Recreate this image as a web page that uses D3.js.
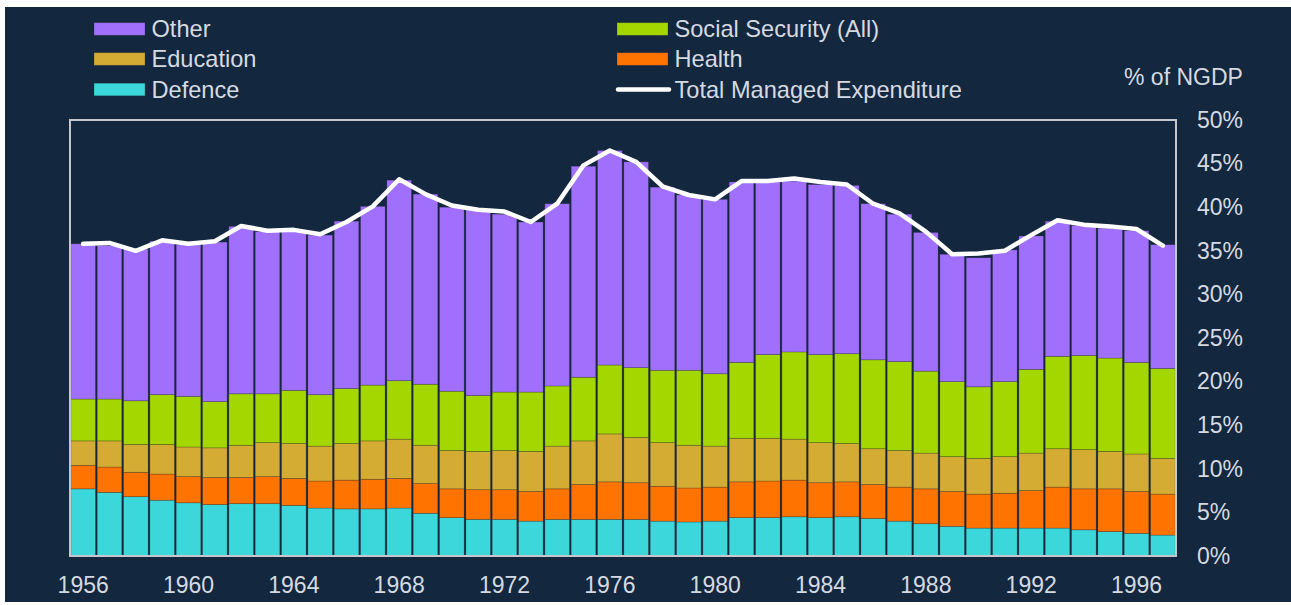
<!DOCTYPE html>
<html>
<head>
<meta charset="utf-8">
<script src="https://cdn.jsdelivr.net/npm/d3@7"></script>
<style>
  html, body { margin: 0; padding: 0; background: #ffffff; }
  svg { display: block; }
  text { font-family: "Liberation Sans", Arial, sans-serif; fill: #d6dae0; }
</style>
</head>
<body>
<svg id="chart" width="1291" height="605"></svg>
<script>
// Public spending by function, % of nominal GDP, 1956-1997
const years = d3.range(1956, 1998);
const defence = [7.7, 7.3, 6.8, 6.4, 6.1, 5.9, 6.0, 6.0, 5.8, 5.5, 5.4, 5.4, 5.5, 4.9, 4.4, 4.2, 4.2, 4.0, 4.2, 4.2,
  4.2, 4.2, 4.0, 3.9, 4.0, 4.4, 4.4, 4.5, 4.4, 4.5, 4.3, 4.0, 3.7, 3.4, 3.2, 3.2, 3.2, 3.2, 3.0, 2.8, 2.6, 2.4];
const health = [2.7, 2.9, 2.8, 3.0, 3.0, 3.1, 3.0, 3.1, 3.1, 3.1, 3.3, 3.4, 3.4, 3.4, 3.3, 3.4, 3.4, 3.4, 3.5, 4.0,
  4.3, 4.2, 4.0, 3.9, 3.9, 4.1, 4.2, 4.2, 4.0, 4.0, 3.9, 3.9, 4.0, 4.0, 3.9, 4.0, 4.3, 4.7, 4.7, 4.9, 4.8, 4.7];
const education = [2.8, 3.0, 3.2, 3.4, 3.4, 3.4, 3.7, 3.9, 4.0, 4.0, 4.2, 4.4, 4.5, 4.4, 4.4, 4.4, 4.5, 4.6, 4.9, 5.0,
  5.5, 5.2, 5.0, 4.9, 4.7, 5.0, 4.9, 4.7, 4.6, 4.4, 4.1, 4.2, 4.1, 4.0, 4.1, 4.2, 4.3, 4.4, 4.5, 4.3, 4.3, 4.1];
const socialSecurity = [4.8, 4.8, 5.0, 5.7, 5.8, 5.3, 5.9, 5.6, 6.1, 5.9, 6.3, 6.4, 6.7, 7.0, 6.8, 6.4, 6.7, 6.8, 6.9, 7.3,
  7.9, 8.0, 8.3, 8.6, 8.3, 8.7, 9.6, 10.0, 10.1, 10.3, 10.2, 10.2, 9.4, 8.6, 8.2, 8.6, 9.6, 10.6, 10.8, 10.7, 10.5, 10.3];
const other = [17.8, 17.6, 17.4, 17.6, 17.4, 18.3, 19.2, 18.6, 18.2, 18.3, 19.2, 20.5, 23.0, 21.8, 21.1, 21.4, 20.4, 19.5, 20.9, 24.2,
  24.6, 23.6, 21.0, 20.1, 20.0, 20.7, 19.8, 19.6, 19.5, 19.3, 17.9, 16.9, 15.9, 14.6, 14.8, 15.1, 15.3, 15.5, 14.9, 14.9, 15.1, 14.2];
const totalManaged = [35.8, 35.9, 35.0, 36.2, 35.8, 36.1, 37.85, 37.3, 37.4, 36.9, 38.3, 40.1, 43.2, 41.5, 40.2, 39.7, 39.5, 38.3, 40.4, 44.8,
  46.5, 45.2, 42.4, 41.4, 40.9, 43.0, 43.0, 43.3, 42.9, 42.6, 40.4, 39.3, 37.2, 34.6, 34.7, 35.0, 36.8, 38.5, 38.0, 37.8, 37.5, 35.6];
const yTicks = [0, 5, 10, 15, 20, 25, 30, 35, 40, 45, 50];
const xTickYears = d3.range(1956, 1998, 4);

const seriesKeys = ["defence", "health", "education", "socialSecurity", "other"];
const seriesNames = {
  other: "Other", socialSecurity: "Social Security (All)", education: "Education",
  health: "Health", defence: "Defence"
};
const colors = {
  other: "#a070fd", socialSecurity: "#a4d600", education: "#d4ac34",
  health: "#ff7300", defence: "#3bd7db"
};

const rows = years.map((yr, i) => ({
  year: yr,
  defence: defence[i], health: health[i], education: education[i],
  socialSecurity: socialSecurity[i], other: other[i]
}));

const svg = d3.select("#chart");
const plot = { left: 70, right: 1176, top: 120, bottom: 556 };

// dark panel
svg.append("rect").attr("x", 5).attr("y", 7).attr("width", 1286).attr("height", 595).attr("fill", "#13273f");

const x = d3.scaleBand().domain(years).range([plot.left, plot.right]).paddingInner(0.066).paddingOuter(0.033);
const y = d3.scaleLinear().domain([0, 50]).range([plot.bottom, plot.top]);

const stacked = d3.stack().keys(seriesKeys)(rows);

svg.append("g").selectAll("g")
  .data(stacked)
  .join("g")
  .attr("fill", d => colors[d.key])
  .selectAll("rect")
  .data(d => d)
  .join("rect")
  .attr("x", d => x(d.data.year))
  .attr("width", x.bandwidth())
  .attr("y", d => y(d[1]))
  .attr("height", d => y(d[0]) - y(d[1]))
  .attr("stroke", "rgba(40,40,40,0.35)")
  .attr("stroke-width", 0.7);

// total managed expenditure line
const line = d3.line()
  .x((d, i) => x(years[i]) + x.bandwidth() / 2)
  .y(d => y(d));
svg.append("path")
  .datum(totalManaged)
  .attr("d", line)
  .attr("fill", "none")
  .attr("stroke", "#ffffff")
  .attr("stroke-width", 4.5)
  .attr("stroke-linejoin", "round")
  .attr("stroke-linecap", "round");

// plot frame
svg.append("rect")
  .attr("x", plot.left).attr("y", plot.top)
  .attr("width", plot.right - plot.left).attr("height", plot.bottom - plot.top)
  .attr("fill", "none").attr("stroke", "#c4c8cc").attr("stroke-width", 2);

// right axis
const yAxis = svg.append("g")
  .attr("transform", `translate(${plot.right},0)`)
  .call(d3.axisRight(y).tickValues(yTicks).tickFormat(d => d + "%").tickSize(0).tickPadding(21));
yAxis.select(".domain").remove();
yAxis.selectAll("text").attr("font-size", 23).attr("font-family", null).attr("fill", "#d6dae0");

// bottom axis
const xAxis = svg.append("g")
  .attr("transform", `translate(0,${plot.bottom})`)
  .call(d3.axisBottom(x).tickValues(xTickYears).tickSize(0).tickPadding(21));
xAxis.select(".domain").remove();
xAxis.selectAll("text").attr("font-size", 23).attr("font-family", null).attr("fill", "#d6dae0");

svg.append("text").attr("x", 1124).attr("y", 77).attr("dy", "0.35em")
  .attr("font-size", 23).text("% of NGDP");

// legend
const legendItems = [
  { key: "other", col: 0, row: 0 },
  { key: "education", col: 0, row: 1 },
  { key: "defence", col: 0, row: 2 },
  { key: "socialSecurity", col: 1, row: 0 },
  { key: "health", col: 1, row: 1 },
  { key: "total", col: 1, row: 2 }
];
const colX = [94, 617];
const rowY = [29, 59, 89.5];
const legend = svg.append("g");
legendItems.forEach(it => {
  const gx = colX[it.col], gy = rowY[it.row];
  if (it.key === "total") {
    legend.append("line").attr("x1", gx + 1).attr("x2", gx + 52).attr("y1", gy).attr("y2", gy)
      .attr("stroke", "#ffffff").attr("stroke-width", 4.5).attr("stroke-linecap", "round");
  } else {
    legend.append("rect").attr("x", gx).attr("y", gy - 6.3).attr("width", 51).attr("height", 12.6)
      .attr("fill", colors[it.key]).attr("stroke", "rgba(40,40,40,0.35)").attr("stroke-width", 0.7);
  }
  legend.append("text").attr("x", gx + 57.5).attr("y", gy).attr("dy", "0.35em")
    .attr("font-size", 23.6)
    .text(it.key === "total" ? "Total Managed Expenditure" : seriesNames[it.key]);
});
</script>
</body>
</html>
